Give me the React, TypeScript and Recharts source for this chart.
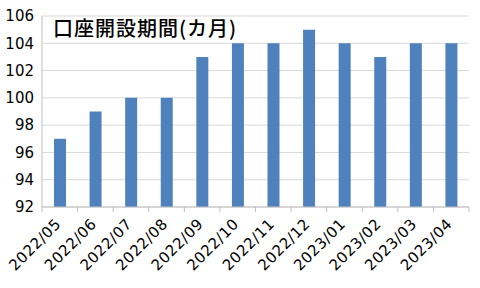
import React from "react";
import { BarChart, Bar, XAxis, YAxis, CartesianGrid } from "recharts";

const months = [
  "2022/05", "2022/06", "2022/07", "2022/08", "2022/09", "2022/10",
  "2022/11", "2022/12", "2023/01", "2023/02", "2023/03", "2023/04",
];
const periods = [97, 99, 100, 100, 103, 104, 104, 105, 104, 103, 104, 104];
const yTicks = [92, 94, 96, 98, 100, 102, 104, 106];

const data = months.map((m, i) => ({ m, v: periods[i] }));

const W = 480;
const H = 288;
const M = { top: 16, right: 11, left: 0, bottom: 0 };
const Y_W = 42;
const band = (W - M.left - M.right - Y_W) / months.length;
const AXIS = "#bfbfbf";
const FONT = "'DejaVu Sans', Verdana, sans-serif";

function MonthTick(props: any) {
  const { x, y, payload, index } = props;
  const ax = x + 2;
  const ay = y + 18;
  return (
    <g>
      <line x1={x - band / 2} y1={y} x2={x - band / 2} y2={y + 5} stroke={AXIS} />
      {index === months.length - 1 && (
        <line x1={x + band / 2} y1={y} x2={x + band / 2} y2={y + 5} stroke={AXIS} />
      )}
      <text
        x={ax}
        y={ay}
        textAnchor="end"
        transform={`rotate(-45 ${ax} ${ay})`}
        fontSize={15}
        letterSpacing={0.5}
        fontFamily={FONT}
        fill="#000"
      >
        {payload.value}
      </text>
    </g>
  );
}

export default function App() {
  return (
    <div style={{ position: "absolute", left: 0, top: 0, width: W, height: H, background: "#fff" }}>
      <BarChart width={W} height={H} data={data} margin={M}>
        <CartesianGrid vertical={false} stroke="#d9d9d9" />
        <XAxis
          dataKey="m"
          height={81}
          stroke={AXIS}
          tickLine={false}
          tickSize={0}
          tickMargin={0}
          interval={0}
          tick={<MonthTick />}
        />
        <XAxis xAxisId="top" dataKey="m" orientation="top" height={0} tick={false} tickLine={false} stroke={AXIS} />
        <YAxis
          domain={[92, 106]}
          ticks={yTicks}
          width={Y_W}
          stroke={AXIS}
          tickLine={false}
          tickSize={0}
          tickMargin={8}
          tick={{ fill: "#000", fontSize: 15, fontFamily: FONT }}
        />
        <YAxis yAxisId="right" orientation="right" width={0} domain={[92, 106]} tick={false} tickLine={false} stroke={AXIS} />
        <Bar dataKey="v" fill="#4f81bd" barSize={12} isAnimationActive={false} />
      </BarChart>
      <div
        style={{
          position: "absolute",
          left: 53,
          top: 16,
          fontSize: 20,
          lineHeight: "24px",
          letterSpacing: 1,
          fontWeight: 500,
          fontFamily: "'Noto Sans CJK JP', sans-serif",
          color: "#000",
          whiteSpace: "nowrap",
        }}
      >
        口座開設期間(カ月)
      </div>
    </div>
  );
}
